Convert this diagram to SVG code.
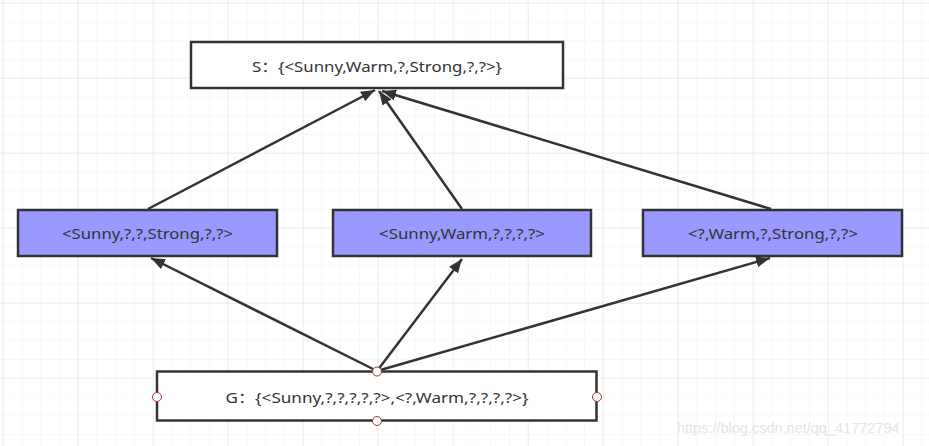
<svg xmlns="http://www.w3.org/2000/svg" width="929" height="446" viewBox="0 0 929 446">
<style>
.box{stroke:#333;stroke-width:2.5}
.w{fill:#fff}
.p{fill:#9999ff}
.t{font-family:"Noto Sans","Noto Sans CJK SC",sans-serif;font-size:14.5px;fill:#333;text-anchor:middle;dominant-baseline:central}
.c{stroke:#333;stroke-width:2.5;fill:none;marker-end:url(#ah)}
.h{fill:#fff;stroke:#a33;stroke-width:1}
</style>
<defs>
<pattern id="minor" x="2.7" y="2.7" width="18.75" height="18.75" patternUnits="userSpaceOnUse">
<path d="M0,0 H18.75 M0,0 V18.75" stroke="#f0f0f0" stroke-width="1" fill="none"/>
</pattern>
<pattern id="major" x="2.7" y="2.7" width="75" height="75" patternUnits="userSpaceOnUse">
<path d="M0,0 H75 M0,0 V75" stroke="#e2e2e2" stroke-width="1" fill="none"/>
</pattern>
<marker id="ah" markerWidth="16" markerHeight="12" refX="14" refY="5.5" orient="auto" markerUnits="userSpaceOnUse">
<path d="M0,0 L14,5.5 L0,11 z" fill="#333"/>
</marker>
</defs>
<rect width="929" height="446" fill="#fff"/>
<rect width="929" height="446" fill="url(#minor)"/>
<rect width="929" height="446" fill="url(#major)"/>

<g id="connectors">
<line class="c" x1="148" y1="209" x2="375" y2="90"/>
<line class="c" x1="462" y1="209" x2="379" y2="91"/>
<line class="c" x1="771" y1="209" x2="382" y2="91"/>
<line class="c" x1="377" y1="371" x2="151" y2="258"/>
<line class="c" x1="377" y1="371" x2="462" y2="259"/>
<line class="c" x1="377" y1="371" x2="770" y2="258"/>
</g>

<g id="S">
<rect class="box w" x="191" y="42" width="372" height="46"/>
<text class="t" x="377" y="66" textLength="250" lengthAdjust="spacingAndGlyphs">S：{&lt;Sunny,Warm,?,Strong,?,?&gt;}</text>
</g>
<g id="n1">
<rect class="box p" x="18" y="210" width="259" height="46"/>
<text class="t" x="147.5" y="233" textLength="171" lengthAdjust="spacingAndGlyphs">&lt;Sunny,?,?,Strong,?,?&gt;</text>
</g>
<g id="n2">
<rect class="box p" x="333" y="210" width="258" height="46"/>
<text class="t" x="462" y="233" textLength="166" lengthAdjust="spacingAndGlyphs">&lt;Sunny,Warm,?,?,?,?&gt;</text>
</g>
<g id="n3">
<rect class="box p" x="643" y="210" width="259" height="46"/>
<text class="t" x="773" y="233" textLength="170" lengthAdjust="spacingAndGlyphs">&lt;?,Warm,?,Strong,?,?&gt;</text>
</g>
<g id="G">
<rect class="box w" x="157" y="371.5" width="439.5" height="49"/>
<text class="t" x="377" y="397" textLength="303" lengthAdjust="spacingAndGlyphs">G：{&lt;Sunny,?,?,?,?,?&gt;,&lt;?,Warm,?,?,?,?&gt;}</text>
<circle class="h" cx="377" cy="371.5" r="4.5"/>
<circle class="h" cx="377" cy="421" r="4.5"/>
<circle class="h" cx="157" cy="397" r="4.5"/>
<circle class="h" cx="597" cy="397" r="4.5"/>
</g>
<text x="677" y="433" font-family="Liberation Sans, Arial, sans-serif" font-size="14.5" fill="#e4e4e4">https://blog.csdn.net/qq_41772794</text>
</svg>
